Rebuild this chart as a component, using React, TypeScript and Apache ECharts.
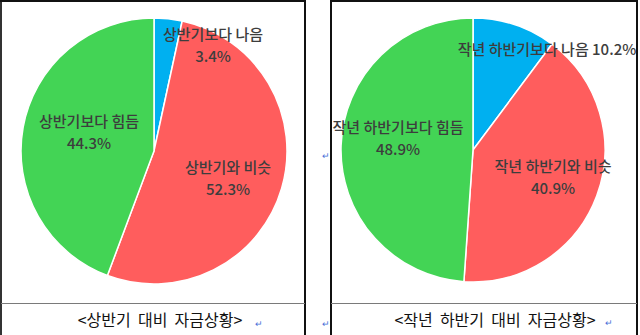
import React, { useEffect, useRef } from "react";
import * as echarts from "echarts";

// ---- data ----
const leftNames = ["상반기보다 나음", "상반기와 비슷", "상반기보다 힘듬"];
const leftValues = [3.4, 52.3, 44.3];
const rightNames = ["작년 하반기보다 나음", "작년 하반기와 비슷", "작년 하반기보다 힘듬"];
const rightValues = [10.2, 40.9, 48.9];
const captions = ["<상반기  대비  자금상황>", "<작년  하반기  대비  자금상황>"];
const sliceColors = ["#00B0F0", "#FF5D5D", "#43D455"];

// label anchor points (layout)
const leftLabelPos = [
  [213, 44],
  [228, 177],
  [89, 131],
];
const rightLabelPos = [
  [547, 48],
  [553, 176],
  [398, 137],
];

const FONT = "'Noto Sans CJK KR', 'Noto Sans', sans-serif";

function buildData(names: string[], values: number[], singleLine: boolean[]) {
  return names.map((n, i) => ({
    name: n,
    value: values[i],
    itemStyle: { color: sliceColors[i] },
    label: {
      formatter: singleLine[i] ? "{b} {c}%" : "{b}\n{c}%",
    },
  }));
}

export default function App() {
  const ref = useRef<HTMLDivElement>(null);
  useEffect(() => {
    if (!ref.current) return;
    const chart = echarts.init(ref.current, undefined, { renderer: "svg" });
    const pieBase = {
      type: "pie" as const,
      radius: 133,
      startAngle: 90,
      clockwise: true,
      animation: false,
      silent: true,
      itemStyle: { borderColor: "#ffffff", borderWidth: 1.5 },
      label: {
        show: true,
        position: "inside",
        color: "#3d3d3d",
        fontSize: 15,
        fontWeight: 500,
        lineHeight: 22,
        fontFamily: FONT,
        align: "center",
      },
      labelLine: { show: false },
    };
    const line = (x1: number, y1: number, x2: number, y2: number, color: string, w: number) => ({
      type: "line",
      shape: { x1, y1, x2, y2 },
      style: { stroke: color, lineWidth: w },
      silent: true,
    });
    const retMark = (x: number, y: number) => ({
      type: "text",
      x,
      y,
      style: { text: "↵", fill: "#4a6fd8", fontSize: 9, fontFamily: FONT, textAlign: "center", textVerticalAlign: "middle" },
      silent: true,
    });
    chart.setOption({
      animation: false,
      backgroundColor: "#ffffff",
      series: [
        {
          ...pieBase,
          center: [154, 151],
          data: buildData(leftNames, leftValues, [false, false, false]),
          labelLayout: (p: any) => ({
            x: leftLabelPos[p.dataIndex][0],
            y: leftLabelPos[p.dataIndex][1],
            align: "center",
            verticalAlign: "middle",
          }),
        },
        {
          ...pieBase,
          center: [473, 150],
          radius: 132,
          data: buildData(rightNames, rightValues, [true, false, false]),
          labelLayout: (p: any) => ({
            x: rightLabelPos[p.dataIndex][0],
            y: rightLabelPos[p.dataIndex][1],
            align: "center",
            verticalAlign: "middle",
          }),
        },
      ],
      graphic: [
        // left panel frame
        line(1, 0, 1, 335, "#333", 2),
        line(305, 0, 305, 335, "#111", 2),
        line(0, 1, 306, 1, "#111", 2),
        line(1, 303.5, 305, 303.5, "#7a7a7a", 1),
        // right panel frame
        line(331, 0, 331, 335, "#111", 2),
        line(637, 0, 637, 335, "#111", 2),
        line(330, 1, 638, 1, "#111", 2),
        line(331, 303.5, 637, 303.5, "#7a7a7a", 1),
        // captions
        {
          type: "text",
          x: 160,
          y: 319,
          style: { text: captions[0], fill: "#111", fontSize: 16, fontFamily: FONT, textAlign: "center", textVerticalAlign: "middle" },
          silent: true,
        },
        {
          type: "text",
          x: 495,
          y: 319,
          style: { text: captions[1], fill: "#111", fontSize: 16, fontFamily: FONT, textAlign: "center", textVerticalAlign: "middle" },
          silent: true,
        },
        retMark(259, 323),
        retMark(326, 323),
        retMark(609, 322),
        retMark(326, 155),
      ],
    });
    return () => chart.dispose();
  }, []);
  return (
    <div
      ref={ref}
      style={{ position: "absolute", left: 0, top: 0, width: 640, height: 335, background: "#fff" }}
    />
  );
}
